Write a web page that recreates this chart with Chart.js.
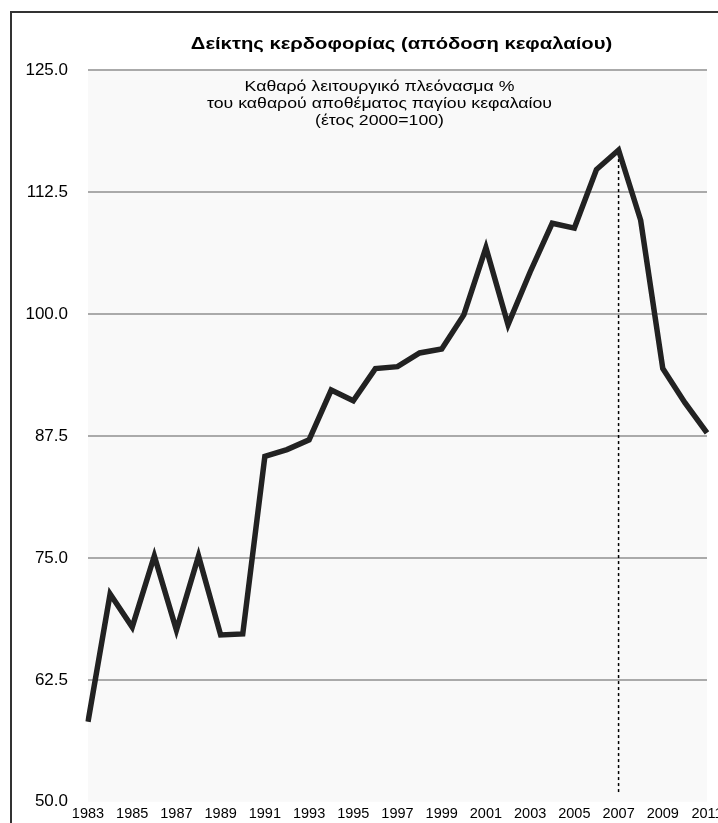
<!DOCTYPE html>
<html lang="el">
<head>
    <meta charset="UTF-8">
    <title>Δείκτης κερδοφορίας</title>
    <script src="https://cdn.jsdelivr.net/npm/chart.js"></script>
    <style>
        body { margin: 0; overflow: hidden; background: #fff; }
        #frame { position: absolute; left: 10px; top: 11px; width: 820px; height: 900px; border: 2px solid #333; }
        #chart { position: absolute; left: 0; top: 0; }
    </style>
</head>
<body>
    <div id="frame"></div>
    <canvas id="chart" width="740" height="832"></canvas>

    <script>
        // data
        const years = ['1983', '1984', '1985', '1986', '1987', '1988', '1989', '1990', '1991', '1992',
                       '1993', '1994', '1995', '1996', '1997', '1998', '1999', '2000', '2001', '2002',
                       '2003', '2004', '2005', '2006', '2007', '2008', '2009', '2010', '2011'];
        const profitIndex = [58.2, 71.3, 67.9, 75.2, 67.6, 75.2, 67.1, 67.2, 85.4, 86.1,
                             87.1, 92.2, 91.1, 94.4, 94.6, 96.0, 96.4, 99.9, 106.8, 98.9,
                             104.3, 109.3, 108.8, 114.8, 116.8, 109.6, 94.4, 90.9, 87.8];
        const markerYear = '2007';
        const markerRange = [51.0, 116.8];
        const yTicks = [50, 62.5, 75, 87.5, 100, 112.5, 125];

        const titleText = 'Δείκτης κερδοφορίας (απόδοση κεφαλαίου)';
        const noteLines = ['Καθαρό λειτουργικό πλεόνασμα %',
                           'του καθαρού αποθέματος παγίου κεφαλαίου',
                           '(έτος 2000=100)'];

        const FONT = "'Liberation Sans', Arial, sans-serif";

        // text in the picture is a bit wider than the font: draw it stretched
        function wideText(ctx, text, cx, y, font, stretch) {
            ctx.save();
            ctx.font = font;
            ctx.fillStyle = '#000';
            ctx.textAlign = 'center';
            ctx.textBaseline = 'alphabetic';
            ctx.translate(cx, y);
            ctx.scale(stretch, 1);
            ctx.fillText(text, 0, 0);
            ctx.restore();
        }

        // light plot background, title and the note inside the plot
        const plotExtras = {
            id: 'plotExtras',
            beforeDraw(chart) {
                const a = chart.chartArea, ctx = chart.ctx;
                ctx.save();
                ctx.fillStyle = '#f9f9f9';
                ctx.fillRect(a.left, a.top, a.right - a.left, a.bottom - a.top);
                ctx.restore();
            },
            afterDraw(chart) {
                const a = chart.chartArea, ctx = chart.ctx;
                const mid = (a.left + a.right) / 2;
                wideText(ctx, titleText, mid + 4, a.top - 21, 'bold 17px ' + FONT, 1.19);
                noteLines.forEach((t, i) =>
                    wideText(ctx, t, mid - 18, a.top + 21 + i * 17, '15px ' + FONT, 1.18));
            }
        };

        new Chart(document.getElementById('chart').getContext('2d'), {
            type: 'line',
            data: {
                labels: years,
                datasets: [{
                    data: profitIndex,
                    borderColor: '#222',
                    borderWidth: 5.5,
                    borderJoinStyle: 'miter',
                    pointRadius: 0,
                    tension: 0,
                    order: 1
                }, {
                    data: markerRange.map(v => ({ x: markerYear, y: v })),
                    borderColor: '#000',
                    borderWidth: 1.5,
                    borderDash: [3, 3],
                    pointRadius: 0,
                    order: 2
                }]
            },
            options: {
                responsive: false,
                devicePixelRatio: 1,
                animation: false,
                layout: { padding: { left: 0, right: 33, top: 70, bottom: 0 } },
                plugins: {
                    legend: { display: false },
                    tooltip: { enabled: false },
                    title: { display: false }
                },
                scales: {
                    x: {
                        grid: { display: false, drawTicks: false },
                        border: { display: false },
                        afterFit: s => { s.height = 23; },
                        ticks: {
                            autoSkip: false,
                            maxRotation: 0,
                            padding: 3,
                            color: '#000',
                            font: { family: FONT, size: 14.5 },
                            callback: (v, i) => i % 2 === 0 ? years[i] : ''
                        }
                    },
                    y: {
                        min: yTicks[0],
                        max: yTicks[yTicks.length - 1],
                        afterFit: s => { s.width = 88; },
                        afterBuildTicks: s => { s.ticks = yTicks.map(v => ({ value: v })); },
                        grid: {
                            drawTicks: false,
                            lineWidth: 2,
                            color: c => c.tick && c.tick.value === 50 ? 'rgba(0,0,0,0)' : '#aaaaaa'
                        },
                        border: { display: false },
                        ticks: {
                            padding: 20,
                            color: '#000',
                            font: { family: FONT, size: 17 },
                            callback: v => v.toFixed(1)
                        }
                    }
                }
            },
            plugins: [plotExtras]
        });
    </script>
</body>
</html>
